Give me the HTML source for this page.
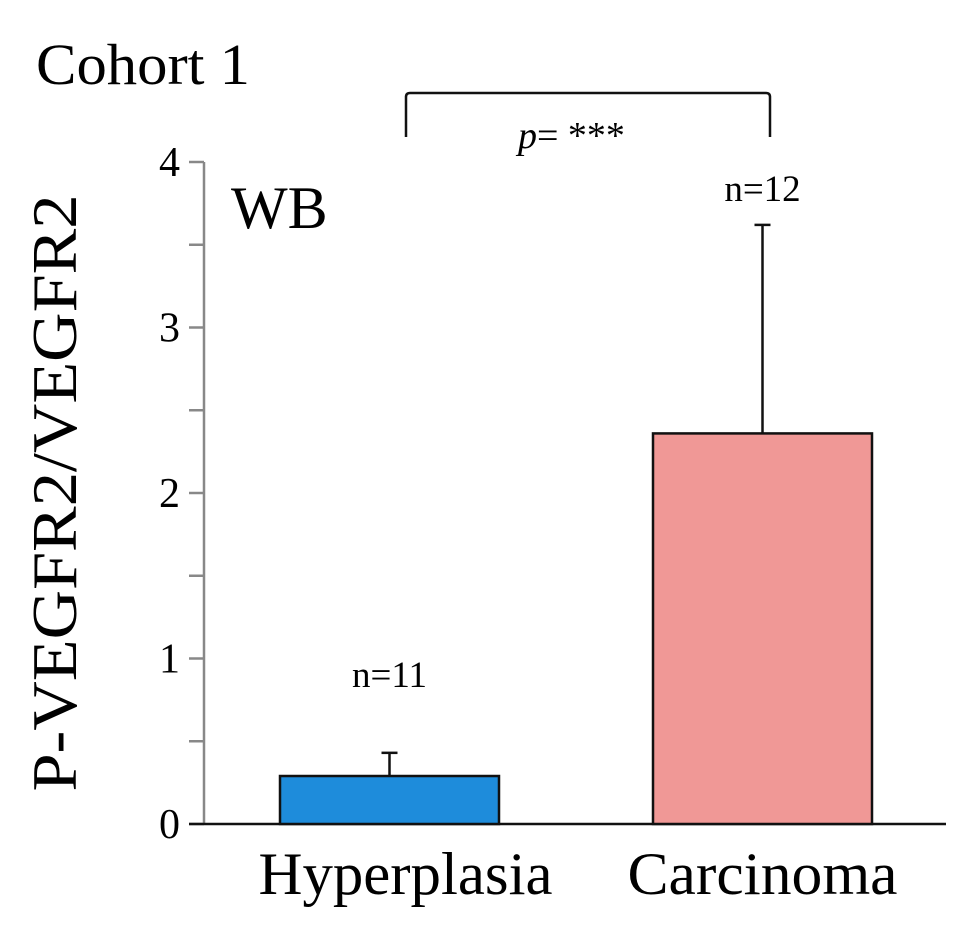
<!DOCTYPE html>
<html><head><meta charset="utf-8"><style>
body{margin:0;background:#fff}
svg{display:block;font-family:"Liberation Serif",serif}
</style></head><body>
<svg id="chart" width="972" height="935" viewBox="0 0 972 935" xmlns="http://www.w3.org/2000/svg">
<text x="36" y="84" font-size="58" textLength="214" lengthAdjust="spacingAndGlyphs">Cohort 1</text>
<text x="231" y="228" font-size="60">WB</text>
<text transform="translate(76,493) rotate(-90)" text-anchor="middle" font-size="64" textLength="597" lengthAdjust="spacingAndGlyphs">P-VEGFR2/VEGFR2</text>
<path d="M406,137 L406,97 Q406,93 410,93 L766,93 Q770,93 770,97 L770,137" fill="none" stroke="#111" stroke-width="2.5"/>
<text x="518" y="148" font-size="38"><tspan font-style="italic">p</tspan>= ***</text>
<g id="axes"></g><g id="bars"></g>
</svg>
<script>
const categories=["Hyperplasia","Carcinoma"];
const means=[0.29,2.36];
const errors=[0.14,1.26];
const nLabels=["n=11","n=12"];
const colors=["#1e8cdb","#f09896"];
const yTicks=[0,1,2,3,4];
const NS="http://www.w3.org/2000/svg";
const y0=824,y4=162,xAxis=204,xEnd=946;
function y(v){return y0-(y0-y4)*v/4;}
function bx(i){return 280+i*373;}
const bw=219;
function mk(t,a,p){const e=document.createElementNS(NS,t);for(const k in a)e.setAttribute(k,a[k]);p.appendChild(e);return e;}
const ax=document.getElementById('axes');
const yl=mk('line',{x1:xAxis,y1:y(0),x2:xAxis,y2:y(4),stroke:'#888','stroke-width':2.5},ax);


for(let v=0;v<=4;v+=0.5){
 const t=mk('line',{x1:xAxis-15,y1:y(v),x2:xAxis,y2:y(v),stroke:'#888','stroke-width':2.5},ax);
 
 
}
yTicks.forEach(v=>{
 const t=mk('text',{x:xAxis-24,y:y(v)+14,'text-anchor':'end','font-size':42},ax);
 t.textContent=v;
 
 
});
const bg=document.getElementById('bars');
categories.forEach((c,i)=>{
 const x=bx(i),cx=x+bw/2;
 const e=mk('line',{x1:cx,y1:y(means[i]),x2:cx,y2:y(means[i]+errors[i]),stroke:'#111','stroke-width':2.5},bg);
 
 
 const cap=mk('line',{x1:cx-8,y1:y(means[i]+errors[i]),x2:cx+8,y2:y(means[i]+errors[i]),stroke:'#111','stroke-width':2.5},bg);
 
 
 const r=mk('rect',{x:x,y:y(means[i]),width:bw,height:y(0)-y(means[i]),fill:colors[i],stroke:'#111','stroke-width':2.5},bg);
 
 
 const n=mk('text',{x:cx,y:(i==0?y(means[i]+errors[i])-66:y(means[i]+errors[i])-24),'text-anchor':'middle','font-size':37},bg);
 n.textContent=nLabels[i];
 
 
 const l=mk('text',{x:cx+(i==0?16:0),y:894,'text-anchor':'middle','font-size':60,textLength:(i==0?294:270),lengthAdjust:'spacingAndGlyphs'},bg);
 l.textContent=c;
 
 
});
const xl=mk('line',{x1:xAxis-15,y1:y0,x2:xEnd,y2:y0,stroke:'#111','stroke-width':2.5},ax);


</script>
</body></html>
